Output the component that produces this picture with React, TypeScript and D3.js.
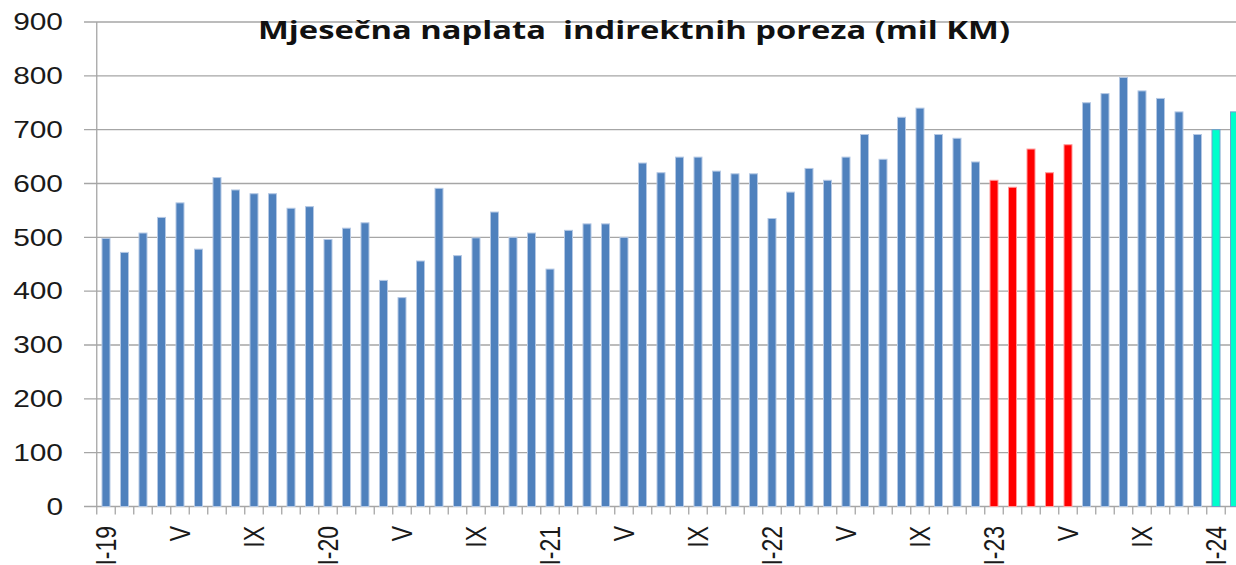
import React, { useEffect, useRef } from 'react';
import * as d3 from 'd3';

const romans = ['I', 'II', 'III', 'IV', 'V', 'VI', 'VII', 'VIII', 'IX', 'X', 'XI', 'XII'];
const years = ['19', '20', '21', '22', '23', '24'];

// month categories, I-19 ... II-24
const months: string[] = years.flatMap((y) => romans.map((r) => `${r}-${y}`)).slice(0, 62);

// monthly collection (mil KM)
const values = [
  498, 472, 508, 537, 564, 478, 611, 588, 581, 581, 554, 557,
  496, 517, 527, 420, 388, 456, 591, 466, 499, 547, 500, 508,
  441, 513, 525, 525, 500, 638, 620, 649, 649, 623, 618, 618,
  535, 584, 628, 606, 649, 691, 645, 723, 740, 691, 684, 640,
  606, 593, 664, 620, 672, 750, 767, 797, 772, 758, 733, 691,
  700, 733,
];

const redMonths = ['I-23', 'II-23', 'III-23', 'IV-23', 'V-23'];
const cyanMonths = ['I-24', 'II-24'];

const shownLabels = ['I-19', 'V-19', 'IX-19', 'I-20', 'V-20', 'IX-20', 'I-21', 'V-21', 'IX-21',
  'I-22', 'V-22', 'IX-22', 'I-23', 'V-23', 'IX-23', 'I-24'];

const yTicks = [0, 100, 200, 300, 400, 500, 600, 700, 800, 900];

const title = 'Mjesečna naplata  indirektnih poreza (mil KM)';

export default function App() {
  const svgRef = useRef<SVGSVGElement>(null);

  useEffect(() => {
    if (!svgRef.current) return;
    const svg = d3.select(svgRef.current);
    svg.selectAll('*').remove();

    const left = 96.75;
    const step = 18.5;

    const x = d3.scaleBand<string>()
      .domain(months)
      .range([left, left + months.length * step])
      .padding(0);

    const y = d3.scaleLinear().domain([0, 900]).range([506.5, 22]);

    const stretch = 1.3;
    const grid = '#a6a6a6';

    // gridlines
    svg.append('g')
      .selectAll('line')
      .data(yTicks)
      .enter()
      .append('line')
      .attr('x1', 84)
      .attr('x2', 1236)
      .attr('y1', (d) => y(d))
      .attr('y2', (d) => y(d))
      .attr('stroke', grid)
      .attr('stroke-width', 1.3);

    // y axis line
    svg.append('line')
      .attr('x1', left).attr('x2', left)
      .attr('y1', y(900)).attr('y2', y(0))
      .attr('stroke', grid).attr('stroke-width', 1.3);

    // x ticks at slot boundaries
    svg.append('g')
      .selectAll('line')
      .data(d3.range(months.length + 1))
      .enter()
      .append('line')
      .attr('x1', (i) => left + i * x.step())
      .attr('x2', (i) => left + i * x.step())
      .attr('y1', y(0))
      .attr('y2', y(0) + 8)
      .attr('stroke', grid)
      .attr('stroke-width', 1.3);

    // y tick labels
    svg.append('g')
      .selectAll('text')
      .data(yTicks)
      .enter()
      .append('text')
      .attr('transform', (d) => `translate(63,${y(d)}) scale(${stretch},1)`)
      .attr('text-anchor', 'end')
      .attr('dy', '0.36em')
      .style('font-family', '"Liberation Sans", Arial, sans-serif')
      .style('font-size', '23px')
      .attr('fill', '#1a1a1a')
      .text((d) => d);

    // bars
    const barW = 8;
    const fillOf = (m: string) =>
      redMonths.includes(m) ? '#ff0000' : cyanMonths.includes(m) ? '#00ffcc' : '#4f81bd';
    const strokeOf = (m: string) =>
      redMonths.includes(m) ? '#ff9a9a' : cyanMonths.includes(m) ? '#6f9fcc' : '#b4c8e4';

    svg.append('g')
      .selectAll('rect')
      .data(months)
      .enter()
      .append('rect')
      .attr('x', (m) => (x(m) || 0) + x.bandwidth() / 2 - barW / 2)
      .attr('width', barW)
      .attr('y', (m, i) => y(values[i]))
      .attr('height', (m, i) => y(0) - y(values[i]))
      .attr('fill', fillOf)
      .attr('stroke', strokeOf)
      .attr('stroke-width', 1);

    // x labels, rotated
    svg.append('g')
      .selectAll('text')
      .data(shownLabels)
      .enter()
      .append('text')
      .attr('transform', (m) =>
        `translate(${(x(m) || 0) + x.bandwidth() / 2},526) scale(${stretch},1) rotate(-90)`)
      .attr('text-anchor', 'end')
      .attr('dominant-baseline', 'central')
      .style('font-family', '"Liberation Sans", Arial, sans-serif')
      .style('font-size', '23px')
      .attr('fill', '#1a1a1a')
      .text((m) => (m.startsWith('I-') ? m : m.split('-')[0]));

    // title
    svg.append('text')
      .attr('x', 258)
      .attr('y', 39)
      .attr('textLength', 752)
      .attr('lengthAdjust', 'spacingAndGlyphs')
      .style('white-space', 'pre')
      .style('font-family', '"Open Sans", "Noto Sans", sans-serif')
      .style('font-weight', 'bold')
      .style('font-size', '24.5px')
      .attr('fill', '#111')
      .text(title);
  }, []);

  return (
    <svg
      ref={svgRef}
      width={1236}
      height={565}
      style={{ position: 'absolute', left: 0, top: 0, background: '#fff' }}
    />
  );
}
